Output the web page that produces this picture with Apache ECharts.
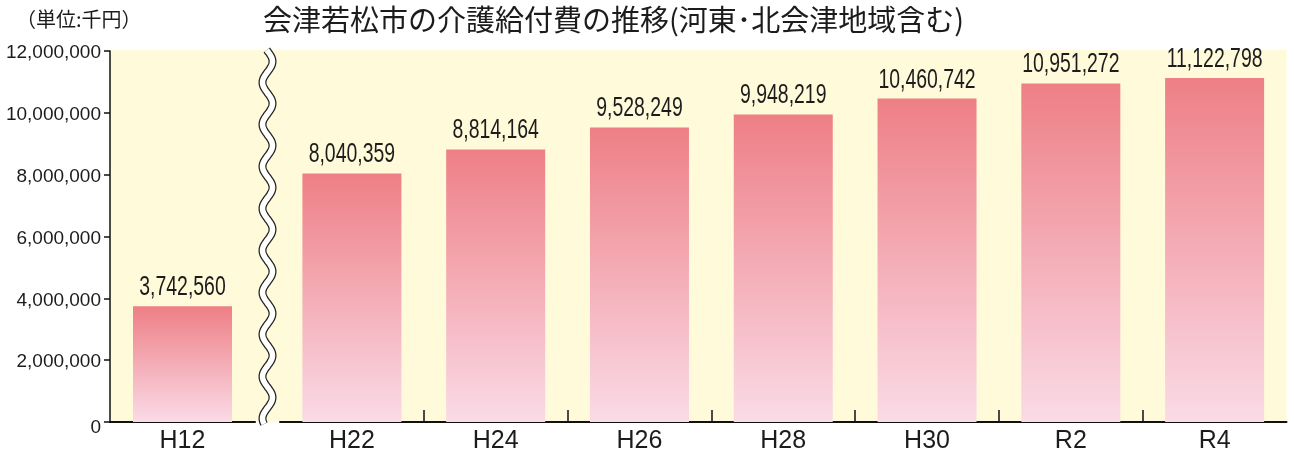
<!DOCTYPE html>
<html><head><meta charset="utf-8">
<script src="https://cdn.jsdelivr.net/npm/echarts@6/dist/echarts.min.js"></script>
<style>html,body{margin:0;padding:0;background:#fff}#c{width:1294px;height:454px}</style>
</head><body><div id="c"></div>
<script>
// ---- data ----
const firstCategories = ['H12'];
const firstValues = [3742560];
const laterCategories = ['H22', 'H24', 'H26', 'H28', 'H30', 'R2', 'R4'];
const laterValues = [8040359, 8814164, 9528249, 9948219, 10460742, 10951272, 11122798];
const yMin = 0, yMax = 12000000, yInterval = 2000000;
const titleText = '会津若松市の介護給付費の推移(河東･北会津地域含む)';
const unitText = '（単位:千円）';

// ---- layout ----
const W = 1294, H = 454;
const plotLeft = 110, plotRightMargin = 7.5, plotTop = 51, plotBottomY = 422;
const gridARight = 255, gridBLeft = 280;
const bottomMargin = H - plotBottomY;

const fmt = v => Number(v).toLocaleString('en-US');
const barColor = new echarts.graphic.LinearGradient(0, 0, 0, 1, [
  { offset: 0, color: '#ee7f86' },
  { offset: 1, color: '#fadbe7' }
]);
const textColor = '#1c1c1c';

// condensed value labels placed through the axes' own scales
function labelRenderer(params, api) {
  const pt = api.coord([api.value(0), api.value(1)]);
  return {
    type: 'text', x: pt[0], y: pt[1] - 5, scaleX: 0.72, z2: 10,
    style: {
      text: fmt(api.value(1)), x: 0, y: 0, align: 'center', verticalAlign: 'bottom',
      fontSize: 27, fontFamily: '"Liberation Sans", Arial, sans-serif', fill: textColor
    }
  };
}

// wavy break decoration
const cx = (gridARight + gridBLeft) / 2;
const wavePts = [];
for (let y = plotTop - 1; y <= plotBottomY + 2; y += 1) {
  wavePts.push([cx + 5 * Math.sin((y - plotTop) / 42 * 2 * Math.PI), y]);
}

const catLabel = { color: textColor, fontSize: 25, margin: 7, fontFamily: '"Liberation Sans", Arial, sans-serif' };

const chart = echarts.init(document.getElementById('c'), null, { renderer: 'canvas' });
chart.setOption({
  animation: false,
  backgroundColor: '#ffffff',
  title: [
    { text: titleText, left: 258, top: 0,
      textStyle: { fontFamily: '"Noto Sans CJK JP", sans-serif', fontSize: 29, fontWeight: 'normal', color: textColor } },
    { text: unitText, left: 11, top: 4,
      textStyle: { fontFamily: '"Noto Sans CJK JP", sans-serif', fontSize: 20, fontWeight: 'normal', color: textColor } }
  ],
  grid: [
    { left: plotLeft, top: plotTop - 1, right: plotRightMargin, bottom: bottomMargin, show: true,
      backgroundColor: '#fffad9', borderWidth: 0, z: -1 },
    { left: plotLeft, top: plotTop, width: gridARight - plotLeft, bottom: bottomMargin },
    { left: gridBLeft, top: plotTop, right: plotRightMargin, bottom: bottomMargin }
  ],
  xAxis: [
    { gridIndex: 0, type: 'value', show: false, min: 0, max: 1 },
    { gridIndex: 1, type: 'category', data: firstCategories,
      axisLine: { lineStyle: { color: '#111', width: 2 } },
      axisTick: { show: false },
      axisLabel: catLabel },
    { gridIndex: 2, type: 'category', data: laterCategories, position: 'bottom',
      axisLine: { lineStyle: { color: '#111', width: 2 } },
      axisTick: { show: false },
      axisLabel: catLabel },
    // tick marks between the later categories only (no end ticks)
    { gridIndex: 2, type: 'category', position: 'bottom', offset: 0, boundaryGap: false,
      data: Array(laterCategories.length + 1).fill(''),
      axisLine: { show: false }, axisLabel: { show: false },
      axisTick: { show: true, inside: true, length: 12, interval: (i) => i > 0 && i < laterCategories.length,
        lineStyle: { color: '#111', width: 1.5 } } }
  ],
  yAxis: [
    { gridIndex: 0, type: 'value', show: false, min: yMin, max: yMax },
    { gridIndex: 1, type: 'value', min: yMin, max: yMax, interval: yInterval,
      axisLine: { show: true, lineStyle: { color: '#111', width: 1.5 } },
      axisTick: { show: true, length: 6, lineStyle: { color: '#111', width: 1.5 } },
      splitLine: { show: false },
      axisLabel: { color: textColor, fontSize: 19, margin: 9, padding: [4, 0, 0, 0],
        formatter: v => v === 0 ? '{z|0}' : fmt(v),
        rich: { z: { fontSize: 19, padding: [8, 0, 0, 0], fontFamily: '"Liberation Sans", Arial, sans-serif' } },
        fontFamily: '"Liberation Sans", Arial, sans-serif' } },
    { gridIndex: 2, type: 'value', min: yMin, max: yMax, interval: yInterval, show: false, splitLine: { show: false } }
  ],
  series: [
    { type: 'bar', xAxisIndex: 1, yAxisIndex: 1, data: firstValues, barWidth: 99,
      itemStyle: { color: barColor } },
    { type: 'bar', xAxisIndex: 2, yAxisIndex: 2, data: laterValues, barWidth: 99,
      itemStyle: { color: barColor } },
    { type: 'custom', xAxisIndex: 1, yAxisIndex: 1, renderItem: labelRenderer, z: 5,
      data: firstValues.map((v, i) => [i, v]) },
    { type: 'custom', xAxisIndex: 2, yAxisIndex: 2, renderItem: labelRenderer, z: 5,
      data: laterValues.map((v, i) => [i, v]) }
  ],
  graphic: [
    { type: 'polyline', z: 100, shape: { points: wavePts, smooth: 0 },
      style: { stroke: '#222', lineWidth: 8, fill: null } },
    { type: 'polyline', z: 101, shape: { points: wavePts, smooth: 0 },
      style: { stroke: '#ffffff', lineWidth: 5.5, fill: null } }
  ]
});
</script></body></html>
